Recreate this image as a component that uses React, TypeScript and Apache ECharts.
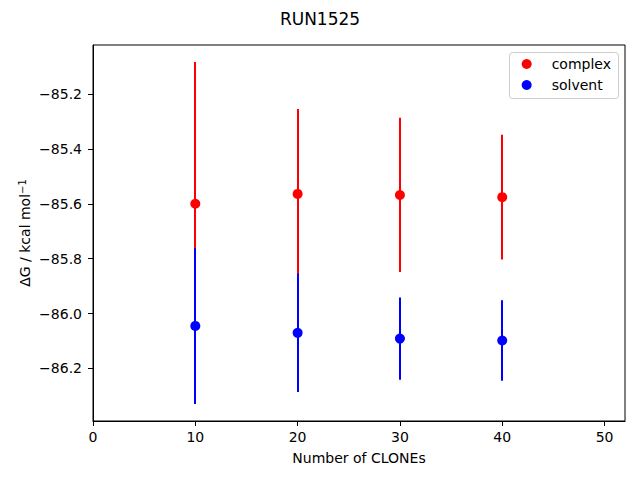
import React, { useEffect, useRef } from "react";
import * as echarts from "echarts";

const clones = [10, 20, 30, 40];
const complexMean = [-85.6, -85.564, -85.568, -85.576];
const complexErr = [0.516, 0.309, 0.281, 0.227];
const solventMean = [-86.045, -86.07, -86.091, -86.098];
const solventErr = [0.284, 0.216, 0.15, 0.147];
const xTicks = [0, 10, 20, 30, 40, 50];
const yTicks = [-86.2, -86.0, -85.8, -85.6, -85.4, -85.2];

const FONT = "DejaVu Sans";

function fmtMinus(v: number, d: number) {
  const s = Math.abs(v).toFixed(d);
  return v < 0 ? "\u2212" + s : s;
}

export default function App() {
  const ref = useRef<HTMLDivElement>(null);
  useEffect(() => {
    if (!ref.current) return;
    const chart = echarts.init(ref.current, undefined, { renderer: "svg" });

    const lows = [
      ...complexMean.map((m, i) => m - complexErr[i]),
      ...solventMean.map((m, i) => m - solventErr[i]),
    ];
    const highs = [
      ...complexMean.map((m, i) => m + complexErr[i]),
      ...solventMean.map((m, i) => m + solventErr[i]),
    ];
    const dMin = Math.min(...lows);
    const dMax = Math.max(...highs);
    const pad = (dMax - dMin) * 0.05;

    const errSeries = (name: string, mean: number[], err: number[], color: string, z: number) => ({
      type: "custom",
      name,
      z,
      data: clones.map((c, i) => [c, mean[i] - err[i], mean[i] + err[i]]),
      encode: { x: 0, y: [1, 2] },
      renderItem: (params: any, api: any) => {
        const x = api.value(0);
        const p1 = api.coord([x, api.value(1)]);
        const p2 = api.coord([x, api.value(2)]);
        const px = Math.round(p1[0]);
        return {
          type: "line",
          shape: { x1: px, y1: p1[1], x2: px, y2: p2[1] },
          style: { stroke: color, lineWidth: 2 },
        };
      },
    });

    chart.setOption({
      animation: false,
      backgroundColor: "#fff",
      textStyle: { fontFamily: FONT },
      title: {
        text: "RUN1525",
        left: "center",
        top: 5,
        textStyle: { fontFamily: FONT, fontSize: 17, fontWeight: "normal", color: "#000" },
      },
      graphic: [
        {
          type: "rect",
          z: 10,
          shape: { x: 509.5, y: 52.5, width: 109, height: 46, r: 3 },
          style: { fill: "rgba(255,255,255,0.8)", stroke: "#cccccc", lineWidth: 1 },
        },
      ],
      legend: {
        data: ["complex", "solvent"],
        orient: "vertical",
        right: 21,
        top: 52,
        z: 20,
        icon: "circle",
        itemWidth: 34,
        itemHeight: 10,
        itemGap: 7,
        padding: [5, 8, 5, 4],
        textStyle: { fontFamily: FONT, fontSize: 14, color: "#000", padding: [0, 0, 0, 3] },
      },
      grid: {
        left: 93,
        right: 15,
        top: 45,
        bottom: 59,
        show: true,
        borderColor: "#000",
        borderWidth: 1,
      },
      xAxis: {
        type: "value",
        min: 0,
        max: 52,
        name: "Number of CLONEs",
        nameLocation: "middle",
        nameGap: 30,
        nameMoveOverlap: false,
        nameTextStyle: { fontFamily: FONT, fontSize: 14, color: "#000" },
        axisLine: { lineStyle: { color: "#000", width: 1 } },
        axisTick: { show: true, length: 5, lineStyle: { color: "#000" }, customValues: xTicks },
        axisLabel: {
          margin: 9,
          fontFamily: FONT,
          fontSize: 14,
          color: "#000",
          customValues: xTicks,
          formatter: (v: number) => String(v),
        },
        splitLine: { show: false },
      },
      yAxis: {
        type: "value",
        min: dMin - pad,
        max: dMax + pad,
        name: "\u0394G / kcal mol{sup|\u22121}",
        nameLocation: "middle",
        nameGap: 60,
        nameMoveOverlap: false,
        nameTextStyle: {
          fontFamily: FONT,
          fontSize: 14,
          color: "#000",
          rich: {
            sup: { fontFamily: FONT, fontSize: 10, color: "#000", verticalAlign: "top", padding: [0, 0, 6, 0] },
          },
        },
        axisLine: { show: true, lineStyle: { color: "#000", width: 1 } },
        axisTick: { show: true, length: 5, lineStyle: { color: "#000" }, customValues: yTicks },
        axisLabel: {
          margin: 11,
          fontFamily: FONT,
          fontSize: 14,
          color: "#000",
          customValues: yTicks,
          formatter: (v: number) => fmtMinus(v, 1),
        },
        splitLine: { show: false },
      },
      series: [
        errSeries("complex-err", complexMean, complexErr, "#ff0000", 2),
        {
          type: "scatter",
          name: "complex",
          z: 3,
          data: clones.map((c, i) => [c, complexMean[i]]),
          symbol: "circle",
          symbolSize: 10,
          itemStyle: { color: "#ff0000", opacity: 1 },
        },
        errSeries("solvent-err", solventMean, solventErr, "#0000ff", 4),
        {
          type: "scatter",
          name: "solvent",
          z: 5,
          data: clones.map((c, i) => [c, solventMean[i]]),
          symbol: "circle",
          symbolSize: 10,
          itemStyle: { color: "#0000ff", opacity: 1 },
        },
      ],
    });
    return () => chart.dispose();
  }, []);
  return (
    <div
      ref={ref}
      style={{ position: "fixed", left: 0, top: 0, width: 640, height: 480 }}
    />
  );
}
